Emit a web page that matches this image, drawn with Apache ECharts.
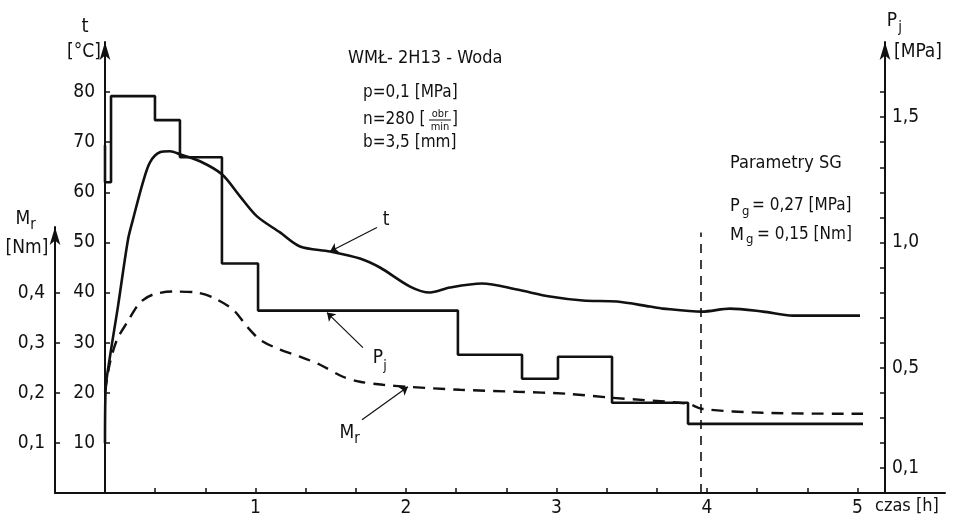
<!DOCTYPE html>
<html><head><meta charset="utf-8">
<script src="https://cdn.jsdelivr.net/npm/echarts@6/dist/echarts.min.js"></script>
<style>html,body{margin:0;padding:0;background:#fff}#c{width:954px;height:524px}</style>
</head><body><div id="c"></div>
<script>
// ---- data (time in hours) ----
const tTime = [0, 0.004, 0.033, 0.086, 0.153, 0.186, 0.252, 0.299, 0.365, 0.432, 0.498, 0.631, 0.777, 0.897, 1.01, 1.163, 1.296, 1.495, 1.694, 1.827, 2.027, 2.159, 2.292, 2.505, 2.738, 2.957, 3.176, 3.402, 3.621, 3.708, 3.967, 4.153, 4.372, 4.571, 5.017];
const tVal  = [10, 20.6, 27.2, 37.2, 50.6, 54.6, 62, 66, 68, 68.2, 67.6, 66.2, 63.6, 59.2, 55.2, 52, 49.2, 48.2, 46.8, 45, 41.2, 40, 41, 41.8, 40.6, 39.2, 38.4, 38.2, 37.2, 36.8, 36.2, 36.8, 36.2, 35.4, 35.4];
const mrTime = [0, 0.033, 0.08, 0.146, 0.233, 0.319, 0.452, 0.611, 0.718, 0.851, 0.944, 1.03, 1.163, 1.296, 1.429, 1.581, 1.694, 1.847, 2.007, 2.359, 2.738, 3.07, 3.369, 3.874, 3.967, 4.372, 5.037];
const mrVal  = [0.202, 0.26, 0.306, 0.34, 0.38, 0.396, 0.402, 0.4, 0.39, 0.366, 0.332, 0.306, 0.286, 0.272, 0.256, 0.232, 0.222, 0.216, 0.212, 0.206, 0.202, 0.198, 0.19, 0.178, 0.168, 0.16, 0.158];
const pjTime = [0, 0, 0.04, 0.332, 0.498, 0.777, 1.017, 2.345, 2.771, 3.01, 3.369, 3.874, 5.037];
const pjVal  = [1.388, 1.24, 1.584, 1.488, 1.34, 0.916, 0.728, 0.552, 0.456, 0.544, 0.36, 0.276, 0.276];
const xTicks = [1/3, 2/3, 1, 4/3, 5/3, 2, 7/3, 8/3, 3, 10/3, 11/3, 4, 13/3, 14/3, 5];
const xLabels = [1, 2, 3, 4, 5];
const tTicks = [10, 20, 30, 40, 50, 60, 70, 80];
const mrTicks = [0.1, 0.2, 0.3, 0.4];
const pjTicks = [0.1, 0.2, 0.3, 0.4, 0.5, 0.6, 0.7, 0.8, 0.9, 1.0, 1.1, 1.2, 1.3, 1.4, 1.5, 1.6];
const pjLabels = [0.1, 0.5, 1.0, 1.5];
const markerTime = 3.96;   // vertical dashed line (SG parameters)
const markerTop = 52;

const FONT = "'DejaVu Sans Condensed','Liberation Sans Narrow','DejaVu Sans',sans-serif";
const INK = '#111';
const comma = v => String(Math.round(v * 10) / 10).replace('.', ',').replace(/^(\d)$/, '$1,0');

const zip = (a, b) => a.map((x, i) => [x, b[i]]);
const T = (text, x, y, size, align) => ({
  type: 'text', x, y, silent: true,
  style: { text, fill: INK, font: `${size}px ${FONT}`, textAlign: align || 'left', textVerticalAlign: 'middle' }
});

const chart = echarts.init(document.getElementById('c'), null, { renderer: 'canvas' });
const axisLineStyle = { color: INK, width: 2 };
const arrowLine = { show: true, lineStyle: axisLineStyle, symbol: ['none', 'arrow'], symbolSize: [8, 18], symbolOffset: [0, 0] };
chart.setOption({
  animation: false,
  backgroundColor: '#fff',
  grid: [
    { left: 105, right: 69, top: 42, bottom: 31 },
    { left: 55, right: 9, top: 227, bottom: 31 }
  ],
  xAxis: [
    { type: 'value', gridIndex: 0, min: 0, max: 5.183,
      axisLine: { show: true, lineStyle: axisLineStyle },
      axisTick: { show: true, inside: true, length: 5, customValues: xTicks, lineStyle: { color: INK, width: 1.5 } },
      axisLabel: { show: true, customValues: xLabels, color: INK, fontSize: 19, fontFamily: FONT, margin: 6 },
      splitLine: { show: false } },
    { type: 'value', gridIndex: 1, min: 0, max: 1,
      axisLine: { show: true, lineStyle: axisLineStyle },
      axisTick: { show: false }, axisLabel: { show: false }, splitLine: { show: false } }
  ],
  yAxis: [
    { type: 'value', gridIndex: 0, position: 'left', min: 0, max: 90,
      axisLine: arrowLine,
      axisTick: { show: true, inside: true, length: 5, customValues: tTicks, lineStyle: { color: INK, width: 1.5 } },
      axisLabel: { show: true, customValues: tTicks, color: INK, fontSize: 19, fontFamily: FONT, margin: 10 },
      splitLine: { show: false } },
    { type: 'value', gridIndex: 0, position: 'left', min: 0, max: 0.9, show: false },
    { type: 'value', gridIndex: 0, position: 'right', min: 0, max: 1.8,
      axisLine: arrowLine,
      axisTick: { show: true, inside: true, length: 5, customValues: pjTicks, lineStyle: { color: INK, width: 1.5 } },
      axisLabel: { show: true, customValues: pjLabels, color: INK, fontSize: 19, fontFamily: FONT, margin: 7, formatter: comma },
      splitLine: { show: false } },
    { type: 'value', gridIndex: 1, position: 'left', min: 0, max: 0.532,
      axisLine: arrowLine,
      axisTick: { show: true, inside: true, length: 5, customValues: mrTicks, lineStyle: { color: INK, width: 1.5 } },
      axisLabel: { show: true, customValues: mrTicks, color: INK, fontSize: 19, fontFamily: FONT, margin: 10, formatter: comma },
      splitLine: { show: false } }
  ],
  series: [
    { name: 't', type: 'line', xAxisIndex: 0, yAxisIndex: 0, data: zip(tTime, tVal),
      smooth: 0.3, showSymbol: false, symbol: 'none',
      lineStyle: { color: INK, width: 2.6 },
      markLine: { silent: true, symbol: ['none', 'arrow'], symbolSize: 8, label: { show: false },
        lineStyle: { color: INK, width: 1.2, type: 'solid' },
        data: [
          [{ coord: [1.807, 53] }, { coord: [1.495, 48.2] }],
          [{ coord: [markerTime, 0], symbol: 'none' }, { coord: [markerTime, markerTop], symbol: 'none', lineStyle: { type: [9, 7], width: 1.6 } }]
        ] } },
    { name: 'Mr', type: 'line', xAxisIndex: 0, yAxisIndex: 1, data: zip(mrTime, mrVal),
      smooth: 0.3, showSymbol: false, symbol: 'none',
      lineStyle: { color: INK, width: 2.4, type: [12, 8] },
      markLine: { silent: true, symbol: ['none', 'arrow'], symbolSize: 8, label: { show: false },
        lineStyle: { color: INK, width: 1.2, type: 'solid' },
        data: [[{ coord: [1.708, 0.146] }, { coord: [2.013, 0.212] }]] } },
    { name: 'Pj', type: 'line', xAxisIndex: 0, yAxisIndex: 2, data: zip(pjTime, pjVal),
      step: 'end', showSymbol: false, symbol: 'none',
      lineStyle: { color: INK, width: 2.6 },
      markLine: { silent: true, symbol: ['none', 'arrow'], symbolSize: 8, label: { show: false },
        lineStyle: { color: INK, width: 1.2, type: 'solid' },
        data: [[{ coord: [1.714, 0.58] }, { coord: [1.475, 0.72] }]] } }
  ],
  graphic: [
    T('t', 85, 27, 20, 'center'),
    T('[°C]', 84, 52, 19, 'center'),
    T('M', 23, 219, 19, 'center'),
    T('r', 33, 225, 15, 'center'),
    T('[Nm]', 27, 248, 19, 'center'),
    T('P', 892, 21, 19, 'center'),
    T('j', 900, 28, 15, 'center'),
    T('[MPa]', 918, 52, 19, 'center'),
    T('WMŁ- 2H13 - Woda', 348, 58, 18),
    T('p=0,1 [MPa]', 363, 93, 17),
    T('n=280 [', 363, 120, 17),
    T('obr', 440, 114, 11, 'center'),
    { type: 'line', silent: true, shape: { x1: 429, y1: 120, x2: 451, y2: 120 }, style: { stroke: INK, lineWidth: 1 } },
    T('min', 440, 127, 11, 'center'),
    T(']', 452, 120, 17),
    T('b=3,5 [mm]', 363, 143, 17),
    T('Parametry SG', 730, 163, 18),
    T('P', 730, 206, 18),
    T('g', 742, 212, 13),
    T('= 0,27 [MPa]', 752, 206, 17),
    T('M', 730, 235, 18),
    T('g', 746, 240, 13),
    T('= 0,15 [Nm]', 757, 235, 17),
    T('t', 386, 220, 19, 'center'),
    T('P', 378, 358, 19, 'center'),
    T('j', 385, 366, 14, 'center'),
    T('M', 347, 433, 19, 'center'),
    T('r', 357, 439, 15, 'center'),
    T('czas [h]', 875, 506, 18)
  ]
});
</script></body></html>
